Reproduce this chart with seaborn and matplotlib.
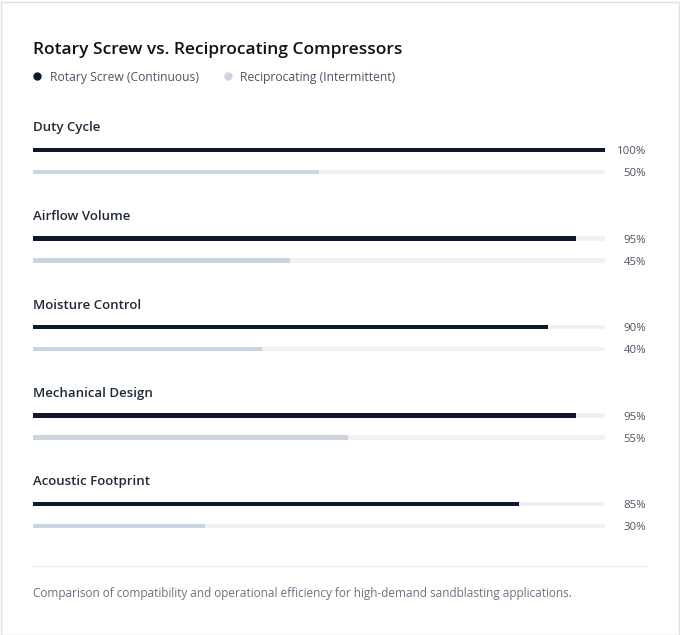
import matplotlib.pyplot as plt
import seaborn as sns
import pandas as pd
from matplotlib.lines import Line2D
from matplotlib.patches import Rectangle

categories = ["Duty Cycle", "Airflow Volume", "Moisture Control",
              "Mechanical Design", "Acoustic Footprint"]
series = ["Rotary Screw (Continuous)", "Reciprocating (Intermittent)"]
rotary = [100, 95, 90, 95, 85]
recip = [50, 45, 40, 55, 30]

DARK = "#0f172a"
LIGHT = "#cbd5e1"
TRACK = "#f1f1f1"
TEXT = "#1f2937"
MUTED = "#4b5563"

W, H = 680, 635
sns.set_theme(style="white")
plt.rcParams["font.family"] = ["Open Sans", "DejaVu Sans"]

fig = plt.figure(figsize=(W / 100, H / 100), dpi=100)
fig.patch.set_facecolor("white")

# card border
fig.add_artist(Rectangle((0.5 / W, 0.5 / H), (W - 2) / W, (H - 2) / H,
                         transform=fig.transFigure, fill=False,
                         edgecolor="#e0e0e0", linewidth=1))

fig.text(33 / W, 1 - 49.5 / H, "Rotary Screw vs. Reciprocating Compressors",
         fontsize=12.5, fontweight="semibold", color="#111111", va="center")

handles = [Line2D([], [], marker="o", linestyle="", color=c, markersize=5)
           for c in (DARK, LIGHT)]
fig.legend(handles, series, loc="center left",
           bbox_to_anchor=(19 / W, 1 - 77 / H), ncol=2, frameon=False,
           fontsize=8.7, labelcolor=MUTED, handletextpad=0.45,
           columnspacing=1.8, handlelength=1.2)

palette = {series[0]: DARK, series[1]: LIGHT}
left, width = 33, 572
step = 88.5
for i, cat in enumerate(categories):
    df = pd.DataFrame({"series": series,
                       "value": [rotary[i], recip[i]],
                       "track": [100, 100]})
    top = 139 + step * i
    ax = fig.add_axes([left / W, 1 - (top + 44) / H, width / W, 44 / H])
    sns.barplot(data=df, y="series", x="track", color=TRACK, width=0.2,
                saturation=1, linewidth=0, ax=ax)
    sns.barplot(data=df, y="series", x="value", hue="series",
                palette=palette, width=0.2, saturation=1, legend=False,
                linewidth=0, dodge=False, ax=ax)
    ax.set_xlim(0, 100)
    ax.set_ylim(1.5, -0.5)
    ax.axis("off")
    ax.text(0, 1.25, cat, transform=ax.transAxes, fontsize=9.5,
            fontweight="semibold", color=TEXT, va="center", ha="left")
    for j, v in enumerate(df["value"]):
        ax.text(1.0717, j + 0.08, f"{v}%", transform=ax.get_yaxis_transform(),
                fontsize=8.2, color=MUTED, va="center", ha="right")

fig.add_artist(Line2D([33 / W, 647 / W], [1 - 566 / H] * 2,
                      transform=fig.transFigure, color="#ebebeb", linewidth=1))
fig.text(33 / W, 1 - 594 / H,
         "Comparison of compatibility and operational efficiency for "
         "high-demand sandblasting applications.",
         fontsize=8.45, color="#6b7280", va="center")

fig.savefig("out.png", dpi=100)
